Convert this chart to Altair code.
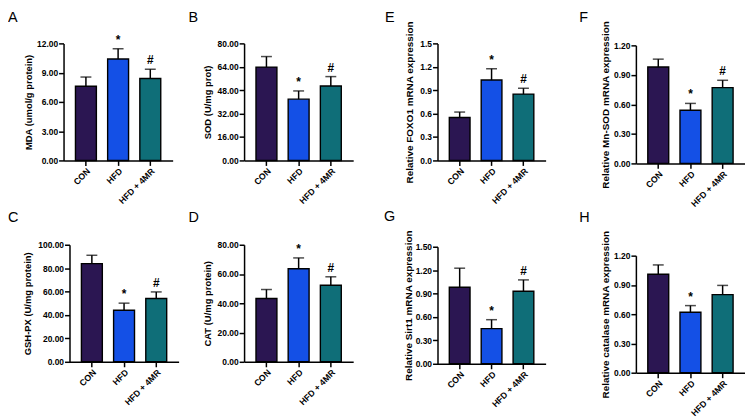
import altair as alt
import pandas as pd

groups = ["CON", "HFD", "HFD + 4MR"]
colors = ["#2B1652", "#1450E6", "#0F6E78"]

# panel values: means and upper error (SD)
mda_mean = [7.6, 10.4, 8.4]
mda_sd = [0.95, 1.05, 0.95]
sod_mean = [63.8, 41.9, 50.9]
sod_sd = [7.2, 5.6, 6.4]
gsh_mean = [83.9, 44.0, 54.1]
gsh_sd = [7.1, 6.1, 5.6]
cat_mean = [43.3, 63.6, 52.3]
cat_sd = [6.1, 7.4, 5.8]
foxo_mean = [0.55, 1.03, 0.85]
foxo_sd = [0.07, 0.145, 0.075]
mnsod_mean = [0.98, 0.54, 0.77]
mnsod_sd = [0.08, 0.07, 0.075]
sirt_mean = [0.98, 0.45, 0.93]
sirt_sd = [0.245, 0.115, 0.145]
catm_mean = [1.01, 0.62, 0.80]
catm_sd = [0.095, 0.068, 0.095]

marks_all = ["", "*", "#"]
marks_h = ["", "*", ""]

ticks_a = [0, 3, 6, 9, 12]
ticks_b = [0, 16, 32, 48, 64, 80]
ticks_c = [0, 20, 40, 60, 80, 100]
ticks_d = [0, 20, 40, 60, 80]
ticks_e = [0, 0.3, 0.6, 0.9, 1.2, 1.5]
ticks_f = [0, 0.3, 0.6, 0.9, 1.2]

FONT = "Liberation Sans"


def panel(letter, ytitle, means, sds, marks, ticks, fmt, width, xrange, height,
          yrange, axis_offset, title_x, title_size, letter_x, letter_y):
    df = pd.DataFrame({
        "group": groups,
        "mean": means,
        "top": [m + s for m, s in zip(means, sds)],
        "mark": marks,
    })
    base = alt.Chart(df)
    xscale = alt.Scale(domain=groups, range=xrange, paddingInner=0.35, paddingOuter=0.37)
    yscale = alt.Scale(domain=[0, ticks[-1]], range=yrange, nice=False, zero=True)
    xaxis = alt.Axis(title=None, labelAngle=315, labelFont=FONT, labelFontWeight="bold",
                     labelFontSize=8.8, labelColor="black", domainColor="black",
                     domainWidth=1.5, tickColor="black", tickWidth=1.5, tickSize=5,
                     labelPadding=1)
    yaxis = alt.Axis(title=ytitle, values=ticks, format=fmt, grid=False,
                     labelFont=FONT, labelFontWeight="bold", labelFontSize=8.5,
                     labelColor="black", labelPadding=1, domainColor="black",
                     domainWidth=1.5, tickColor="black", tickWidth=1.5, tickSize=5,
                     titleFont=FONT, titleFontWeight="bold", titleFontSize=title_size,
                     titleColor="black", titleX=title_x,
                     titleY=(yrange[0] + yrange[1]) / 2, titleBaseline="bottom",
                     offset=axis_offset)
    xenc = alt.X("group:N", sort=groups, scale=xscale, axis=xaxis)
    bars = base.mark_bar(stroke="black", strokeWidth=1.4).encode(
        x=xenc,
        y=alt.Y("mean:Q", scale=yscale, axis=yaxis),
        color=alt.Color("group:N", scale=alt.Scale(domain=groups, range=colors), legend=None),
    )
    err = base.mark_rule(color="black", strokeWidth=1.5).encode(
        x=xenc,
        y=alt.Y("mean:Q", scale=yscale, axis=yaxis),
        y2="top:Q",
    )
    cap = base.mark_tick(color="black", thickness=1.5, size=11, orient="horizontal").encode(
        x=xenc,
        y=alt.Y("top:Q", scale=yscale, axis=yaxis),
    )
    sig = base.mark_text(font=FONT, fontSize=12, fontWeight="bold", baseline="bottom",
                         dy=-2, color="black").encode(
        x=xenc,
        y=alt.Y("top:Q", scale=yscale, axis=yaxis),
        text="mark:N",
    )
    lab = alt.Chart(pd.DataFrame({"t": [letter]})).mark_text(
        font=FONT, fontSize=14.5, align="left", baseline="alphabetic", color="black"
    ).encode(x=alt.value(letter_x), y=alt.value(letter_y), text="t:N")
    return alt.layer(bars, err, cap, sig, lab).properties(width=width, height=height)


pA = panel("A", "MDA (umol/g protein)", mda_mean, mda_sd, marks_all, ticks_a, ".2f",
           116, [0, 110], 118, [118, 0], 0, -30, 9.5, -56, -22)
pB = panel("B", "SOD (U/mg prot)", sod_mean, sod_sd, marks_all, ticks_b, ".2f",
           129, [0, 110], 118, [118, 0], 0, -32, 9.5, -56, -22)
pE = panel("E", "Relative FOXO1 mRNA expression", foxo_mean, foxo_sd, marks_all, ticks_e, ".1f",
           134, [0, 109], 118, [118, 0], 0, -23, 10, -53, -22)
pF = panel("F", "Relative Mn-SOD mRNA expression", mnsod_mean, mnsod_sd, marks_all, ticks_f, ".2f",
           110, [0, 110], 121, [121, 2], 0, -26, 10, -57, -22)
pC = panel("C", "GSH-PX (U/mg protein)", gsh_mean, gsh_sd, marks_all, ticks_c, ".2f",
           116, [6, 116], 118, [118, 0], -6, -37, 9.5, -56, -23)
pD = panel("D", "CAT (U/mg protein)", cat_mean, cat_sd, marks_all, ticks_d, ".2f",
           129, [0, 110], 118, [118, 0], 0, -32, 9.5, -56, -23)
pG = panel("G", "Relative Sirt1 mRNA expression", sirt_mean, sirt_sd, marks_all, ticks_e, ".2f",
           134, [0, 109], 120, [120, 2], 0, -24, 10, -54, -24)
pH = panel("H", "Relative catalase mRNA expression", catm_mean, catm_sd, marks_h, ticks_f, ".2f",
           110, [0, 110], 129, [129, 11], 0, -26, 10, -57, -23)

chart = alt.concat(pA, pB, pE, pF, pC, pD, pG, pH, columns=4,
                   spacing={"row": 82, "column": 66}, bounds="flush", align="each").properties(
    padding=0, background="white"
).configure_view(strokeWidth=0)

chart.save("out.html", embed_options={"renderer": "svg", "actions": False})
